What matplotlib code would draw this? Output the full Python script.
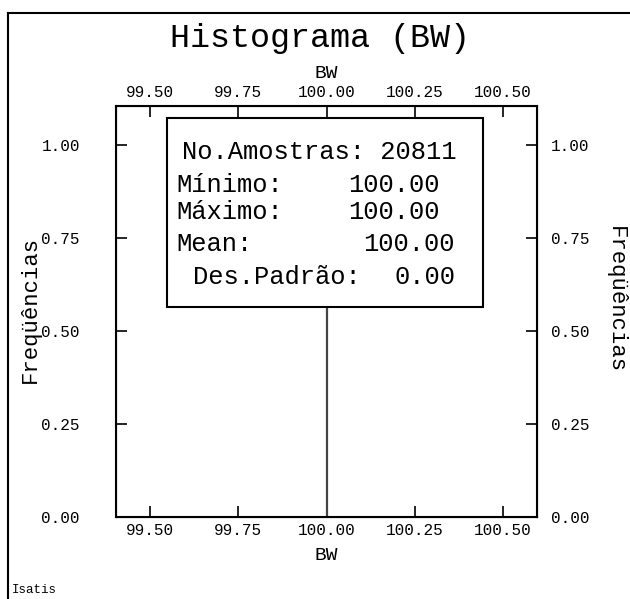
import numpy as np
import matplotlib
matplotlib.use('agg')
import matplotlib.pyplot as plt
from matplotlib.lines import Line2D

plt.rcParams['font.family'] = ['Liberation Mono', 'DejaVu Sans Mono']

# histogram of BW: every sample falls in the 100.00 class
bin_values = [100.0]
bin_freqs = [1.0]
x_ticks = [99.50, 99.75, 100.00, 100.25, 100.50]
y_ticks = [0.00, 0.25, 0.50, 0.75, 1.00]

n_samples = 20811
minimum = 100.00
maximum = 100.00
mean = 100.00
std_dev = 0.00

W, H = 630, 599
fig = plt.figure(figsize=(W / 100, H / 100), dpi=100)


def fx(x):
    return x / W


def fy(y):
    return 1 - y / H


ax = fig.add_axes([fx(116), fy(517), (537 - 116) / W, (517 - 106) / H])
ax.vlines(bin_values, 0, bin_freqs, color='#444444', lw=1.6)
ax.set_xlim(99.403, 100.597)
ax.set_ylim(0, 1.105)

ax.set_xticks(x_ticks)
ax.set_xticklabels([f'{v:.2f}' for v in x_ticks])
ax.set_yticks(y_ticks)
ax.set_yticklabels([f'{v:.2f}' for v in y_ticks])
ax.tick_params(axis='x', direction='in', length=8, width=1.2, top=True,
               labeltop=True, labelsize=11.5, pad=4)
ax.tick_params(axis='y', direction='in', length=8, width=1.2,
               labelsize=11.5, pad=26)
for s in ax.spines.values():
    s.set_linewidth(1.5)

ax2 = ax.twinx()
ax2.set_ylim(ax.get_ylim())
ax2.set_yticks(y_ticks)
ax2.set_yticklabels([f'{v:.2f}' for v in y_ticks])
ax2.tick_params(axis='y', direction='in', length=8, width=1.2,
                labelsize=11.5, pad=10)

# axis titles
fig.text(fx(326), fy(73), 'BW', ha='center', va='center', fontsize=14)
fig.text(fx(326), fy(556), 'BW', ha='center', va='center', fontsize=14)
fig.text(fx(30), fy(309), 'Freqüências', ha='center', va='center',
         rotation=90, fontsize=16)
fig.text(fx(615), fy(300), 'Freqüências', ha='center', va='center',
         rotation=-90, fontsize=16)
fig.text(fx(320), fy(38), 'Histograma (BW)', ha='center', va='center',
         fontsize=24)
fig.text(fx(12), fy(590), 'Isatis', ha='left', va='center', fontsize=9)

# statistics box
box = plt.Rectangle((fx(167), fy(307)), (483 - 167) / W, (307 - 118) / H,
                    transform=fig.transFigure, facecolor='white',
                    edgecolor='black', lw=1.5, zorder=5)
fig.add_artist(box)
stat_fs = 18.4
fig.text(fx(182), fy(152), f'No.Amostras: {n_samples}', ha='left',
         va='center', fontsize=stat_fs, zorder=6)
rows = [('Mínimo:', minimum, 176, 440),
        ('Máximo:', maximum, 176, 440),
        ('Mean:', mean, 176, 455),
        ('Des.Padrão:', std_dev, 193, 455)]
for (name, val, xl, xr), yy in zip(rows, [185, 212, 244, 277]):
    fig.text(fx(xl), fy(yy), name, ha='left', va='center', fontsize=stat_fs,
             zorder=6)
    fig.text(fx(xr), fy(yy), f'{val:.2f}', ha='right', va='center',
             fontsize=stat_fs, zorder=6)

# page frame
fig.add_artist(Line2D([fx(8), fx(8)], [fy(13), 0], color='black', lw=1.5))
fig.add_artist(Line2D([fx(8), 1], [fy(13), fy(13)], color='black', lw=1.5))

fig.savefig('out.png', dpi=100)
